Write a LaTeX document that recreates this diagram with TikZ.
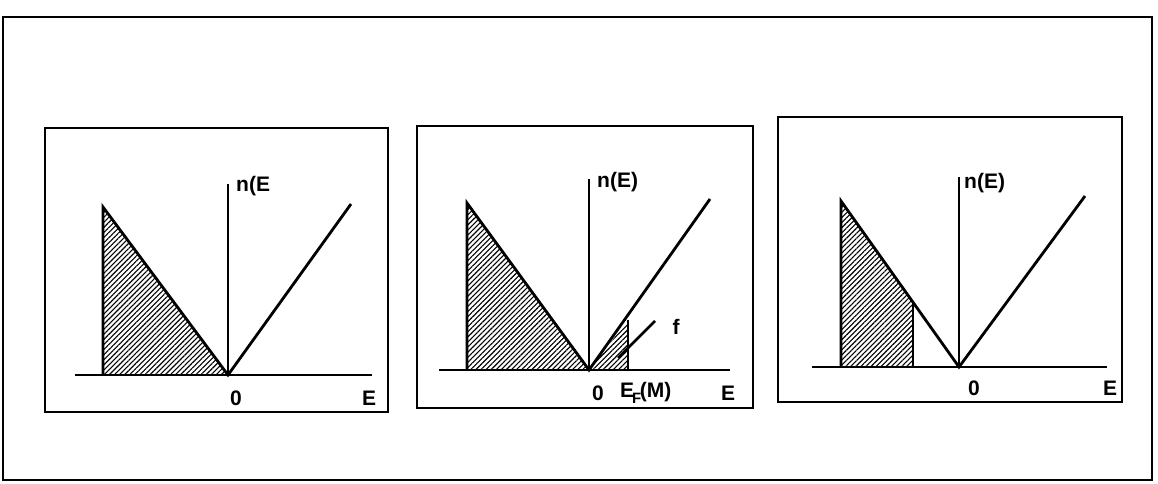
\documentclass[tikz,border=0pt]{standalone}
\usepackage{fontspec}
\setmainfont{Liberation Sans}
\usetikzlibrary{patterns.meta}
\begin{document}
\begin{tikzpicture}[x=1pt,y=-1pt,
  frame/.style={draw=black,line width=2pt},
  curve/.style={draw=black,line width=2.8pt,line join=miter},
  axis/.style={draw=black,line width=2.8pt},
  hatch/.style={pattern={Lines[angle=45,distance=3.6pt,line width=1.1pt]},pattern color=black},
  lbl/.style={inner sep=0pt,font=\fontsize{21}{21}\selectfont\bfseries}]
\useasboundingbox (0,0) rectangle (1158,484);
\fill[white] (0,0) rectangle (1158,484);
% outer frame
\draw[frame] (3,17) rectangle (1152,480);
% ---------- panel 1 ----------
\draw[frame] (45,128) rectangle (388,412);
\coordinate (o1) at (228,375);
\coordinate (t1) at (103,207);
\coordinate (b1) at (103,375);
\fill[hatch] (b1) -- (t1) -- (o1) -- cycle;
\draw[curve] (b1) -- (t1) -- (o1) -- (351,204);
\draw[axis] (75,375) -- (372,375);
\draw[axis] (o1) -- (228,184);
\node[lbl,anchor=west] (n1) at (236,186) {n(E};
\node[lbl] (z1) at (236,398) {0};
\node[lbl] (e1) at (369,398) {E};
% ---------- panel 2 ----------
\draw[frame] (417,126) rectangle (753,408);
\coordinate (o2) at (589,370);
\coordinate (t2) at (467,203);
\coordinate (b2) at (467,370);
\coordinate (p2) at (628,320);
\coordinate (q2) at (628,370);
\fill[hatch] (b2) -- (t2) -- (o2) -- cycle;
\fill[hatch] (o2) -- (p2) -- (q2) -- cycle;
\draw[curve] (b2) -- (t2) -- (o2) -- (710,199);
\draw[curve] (p2) -- (q2);
\draw[curve] (618,358) -- (655,321);
\draw[axis] (439,370) -- (730,370);
\draw[axis] (o2) -- (589,179);
\node[lbl,anchor=west] (n2) at (597,182) {n(E)};
\node[lbl] (z2) at (598,393) {0};
\node[lbl,anchor=west] (ef2) at (620,393) {E\kern-2pt\raisebox{-6pt}{\fontsize{15}{15}\selectfont\bfseries F}\kern-1.5pt(M)};
\node[lbl] (e2) at (728,393) {E};
\node[lbl] (f2) at (676,327) {f};
% ---------- panel 3 ----------
\draw[frame] (778,117) rectangle (1122,402);
\coordinate (o3) at (959,367);
\coordinate (t3) at (841,201);
\coordinate (b3) at (841,367);
\coordinate (c3) at (913,302);
\coordinate (d3) at (913,367);
\fill[hatch] (b3) -- (t3) -- (c3) -- (d3) -- cycle;
\draw[curve] (b3) -- (t3) -- (o3) -- (1085,196);
\draw[curve] (c3) -- (d3);
\draw[axis] (812,367) -- (1107,367);
\draw[axis] (o3) -- (959,177);
\node[lbl,anchor=west] (n3) at (964,183) {n(E)};
\node[lbl] (z3) at (974,388) {0};
\node[lbl] (e3) at (1110,388) {E};
\end{tikzpicture}
\end{document}
